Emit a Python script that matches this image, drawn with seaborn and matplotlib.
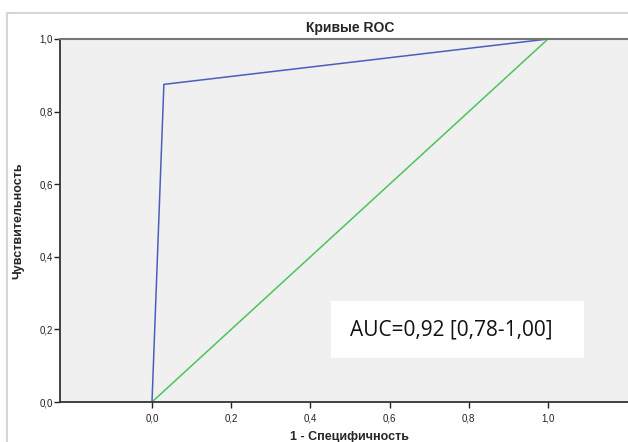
import matplotlib
matplotlib.use("Agg")
import matplotlib.pyplot as plt
from matplotlib.patches import Rectangle
import pandas as pd
import seaborn as sns

# ROC curve points (1 - specificity, sensitivity)
fpr = [0.0, 0.03, 1.0]
tpr = [0.0, 0.875, 1.0]
ref_x = [0.0, 1.0]
ref_y = [0.0, 1.0]
tick_vals = [0.0, 0.2, 0.4, 0.6, 0.8, 1.0]
tick_labels = ["0,0", "0,2", "0,4", "0,6", "0,8", "1,0"]
auc_text = "AUC=0,92 [0,78-1,00]"

sns.set_theme(style="white")
plt.rcParams["font.family"] = ["Liberation Sans", "DejaVu Sans"]

W, H = 628, 442
fig = plt.figure(figsize=(W / 100, H / 100), dpi=100)
fig.patch.set_facecolor("white")

# outer chart frame
fig.patches.append(Rectangle((7 / W, -0.1), 1.2, (H - 13) / H + 0.1,
                             transform=fig.transFigure, fill=False,
                             edgecolor="#d6d6d6", linewidth=1.5))

left_px, right_px, top_px, bottom_px = 60, 640, 39, 402
ax = fig.add_axes([left_px / W, (H - bottom_px) / H,
                   (right_px - left_px) / W, (bottom_px - top_px) / H])
ax.set_facecolor("#f0f0f0")

roc = pd.DataFrame({"x": fpr, "y": tpr})
ref = pd.DataFrame({"x": ref_x, "y": ref_y})
sns.lineplot(data=ref, x="x", y="y", ax=ax, color="#4cc457", linewidth=1.1,
             sort=False, estimator=None)
sns.lineplot(data=roc, x="x", y="y", ax=ax, color="#4a5fbd", linewidth=1.1,
             sort=False, estimator=None)

x0 = (left_px - 152) / 396
x1 = (right_px - 152) / 396
ax.set_xlim(x0, x1)
ax.set_ylim(0, 1)
ax.set_xticks(tick_vals)
ax.set_xticklabels(tick_labels)
ax.set_yticks(tick_vals)
ax.set_yticklabels(tick_labels)
ax.tick_params(axis="both", direction="out", length=4, width=1, colors="#222222",
               labelsize=7, pad=1, bottom=True, left=True)
ax.tick_params(axis="x", pad=4)

for side in ["left", "bottom"]:
    ax.spines[side].set_color("#333333")
    ax.spines[side].set_linewidth(1.3)
ax.spines["top"].set_color("#777777")
ax.spines["top"].set_linewidth(1.5)
ax.spines["right"].set_visible(False)

ax.set_xlabel("1 - Специфичность", fontsize=9, fontweight="bold", labelpad=6)
ax.set_ylabel("Чувствительность", fontsize=9, fontweight="bold", labelpad=11)
ax.set_title("Кривые ROC", fontsize=10, fontweight="bold", pad=5)

# AUC annotation box
box_l, box_r, box_t, box_b = 331, 584, 301, 358
ax_box = fig.add_axes([box_l / W, (H - box_b) / H, (box_r - box_l) / W,
                       (box_b - box_t) / H])
ax_box.set_facecolor("white")
ax_box.set_xticks([])
ax_box.set_yticks([])
for s in ax_box.spines.values():
    s.set_visible(False)
ax_box.text(0.075, 0.49, auc_text, ha="left", va="center", fontsize=15,
            family=["Open Sans", "DejaVu Sans"], color="#111111",
            transform=ax_box.transAxes)

fig.savefig("out.png", dpi=100)
